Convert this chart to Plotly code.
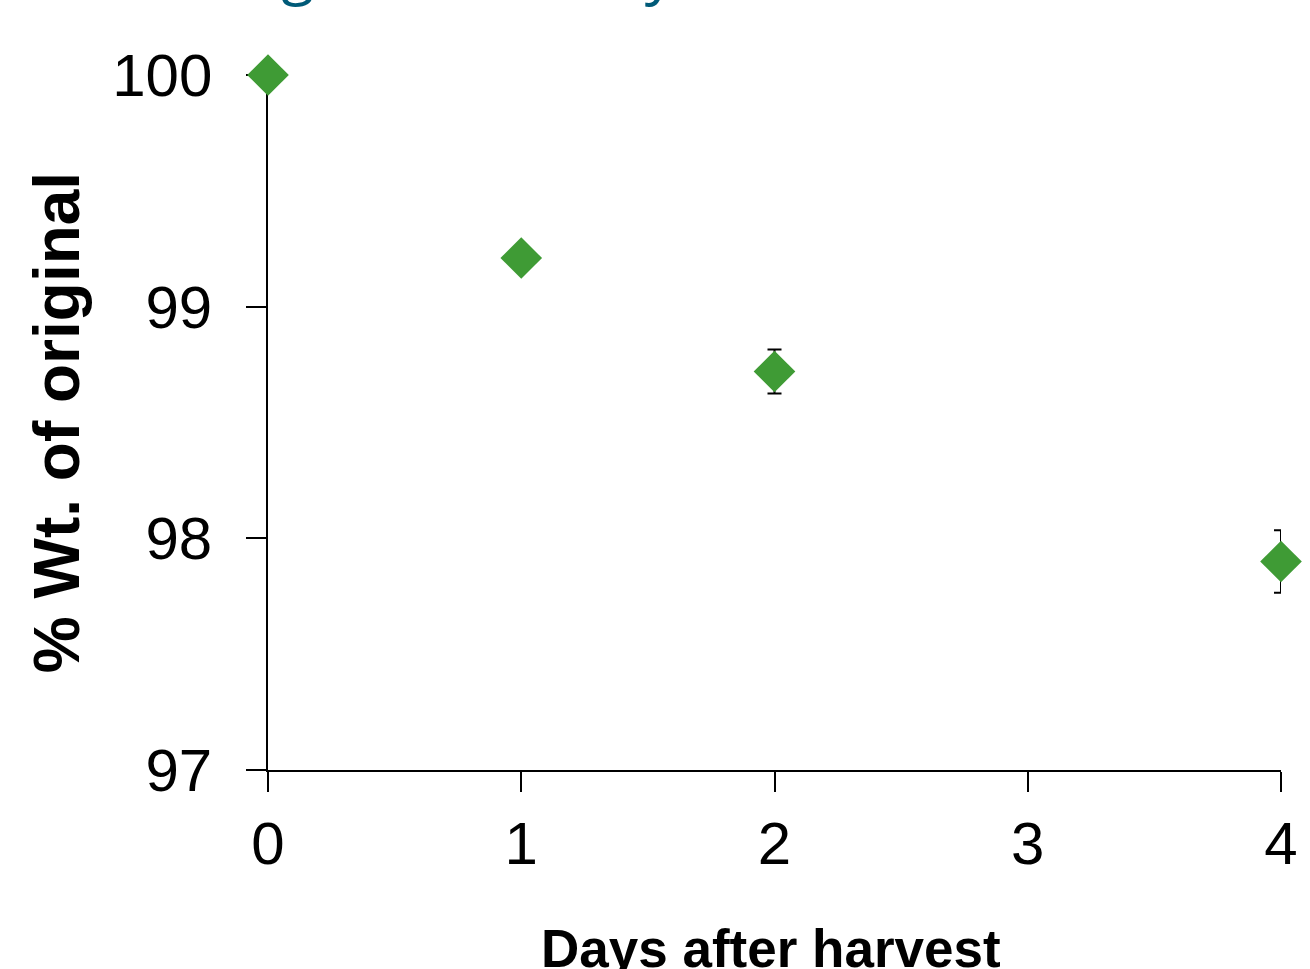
import plotly.graph_objects as go

days = [0, 1, 2, 4]
pct_weight = [100.0, 99.21, 98.72, 97.90]
err = [0.0, 0.03, 0.095, 0.135]
x_ticks = [0, 1, 2, 3, 4]
y_ticks = [97, 98, 99, 100]
title_text = "Weight loss of dry beans"
x_title = "<b>Days after harvest</b>"
y_title = "<b>% Wt. of original</b>"

fig = go.Figure()
fig.add_trace(go.Scatter(
    x=days, y=pct_weight, mode="markers",
    marker=dict(symbol="diamond", size=32, color="#3F9B35", line=dict(width=0)),
    error_y=dict(type="data", array=err, visible=True, color="black", thickness=2, width=7),
    cliponaxis=False, showlegend=False,
))

fig.update_layout(
    width=1310, height=969,
    margin=dict(l=268, r=29, t=75, b=199, autoexpand=False),
    paper_bgcolor="white", plot_bgcolor="white",
    font=dict(family="Liberation Sans, Arial", color="black"),
    xaxis=dict(range=[0, 4], tickvals=x_ticks, ticks="outside", ticklen=20, tickwidth=1.5,
               tickcolor="black", showline=True, linecolor="black", linewidth=1.5,
               showgrid=False, zeroline=False, tickfont=dict(size=60), layer="below traces",
               automargin=False),
    yaxis=dict(range=[97, 100], tickvals=y_ticks, ticks="outside", ticklen=20, tickwidth=1.5,
               tickcolor="black", showline=True, linecolor="black", linewidth=1.5,
               showgrid=False, zeroline=False, tickfont=dict(size=60), layer="below traces",
               ticklabelstandoff=22, automargin=False,
               title=dict(text=y_title, font=dict(size=64), standoff=12)),
)

fig.add_annotation(text=x_title, xref="paper", yref="paper", x=0.497, y=-(917 - 770) / 695,
                   xanchor="center", yanchor="top", showarrow=False,
                   font=dict(family="Liberation Sans, Arial", size=53, color="black"))

fig.add_annotation(text=title_text, xref="paper", yref="paper", x=-0.092, y=1 + (75 - 13) / 695,
                   xanchor="left", yanchor="bottom", showarrow=False,
                   font=dict(family="Open Sans", size=60, color="#005A78"))

fig.write_html("out.html")
